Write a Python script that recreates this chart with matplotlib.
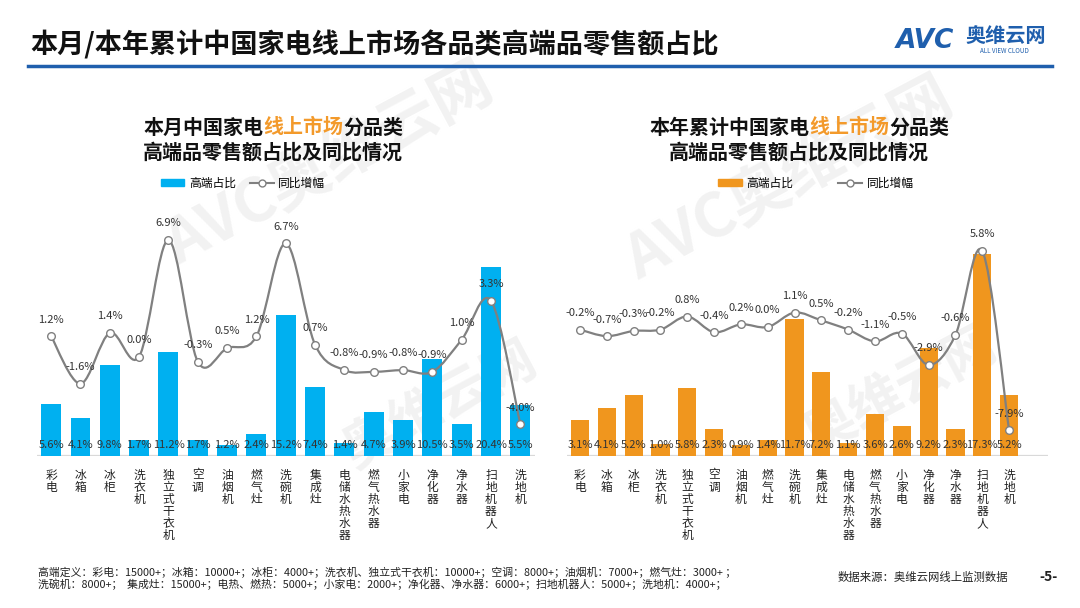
import matplotlib
matplotlib.use('Agg')
import matplotlib.pyplot as plt
from matplotlib.path import Path
from matplotlib.patches import PathPatch, Patch
from matplotlib.lines import Line2D
import numpy as np

plt.rcParams['font.family'] = ['Noto Sans CJK SC', 'DejaVu Sans']

# data
categories = ['彩电', '冰箱', '冰柜', '洗衣机', '独立式干衣机', '空调', '油烟机', '燃气灶', '洗碗机',
              '集成灶', '电储水热水器', '燃气热水器', '小家电', '净化器', '净水器', '扫地机器人', '洗地机']
month_share = [5.6, 4.1, 9.8, 1.7, 11.2, 1.7, 1.2, 2.4, 15.2, 7.4, 1.4, 4.7, 3.9, 10.5, 3.5, 20.4, 5.5]
month_yoy = [1.2, -1.6, 1.4, 0.0, 6.9, -0.3, 0.5, 1.2, 6.7, 0.7, -0.8, -0.9, -0.8, -0.9, 1.0, 3.3, -4.0]
year_share = [3.1, 4.1, 5.2, 1.0, 5.8, 2.3, 0.9, 1.4, 11.7, 7.2, 1.1, 3.6, 2.6, 9.2, 2.3, 17.3, 5.2]
year_yoy = [-0.2, -0.7, -0.3, -0.2, 0.8, -0.4, 0.2, 0.0, 1.1, 0.5, -0.2, -1.1, -0.5, -2.9, -0.6, 5.8, -7.9]

W, H = 1080, 608
fig = plt.figure(figsize=(10.8, 6.08), dpi=100)


def px(x, y):
    return x / W, 1 - y / H


def smooth_path(x, y):
    pts = np.column_stack([x, y]).astype(float)
    n = len(pts)
    verts = [pts[0]]
    codes = [Path.MOVETO]
    for i in range(n - 1):
        p0 = pts[i - 1] if i > 0 else pts[i]
        p1 = pts[i]
        p2 = pts[i + 1]
        p3 = pts[i + 2] if i + 2 < n else pts[i + 1]
        verts += [p1 + (p2 - p0) / 6, p2 - (p3 - p1) / 6, p2]
        codes += [Path.CURVE4] * 3
    return Path(verts, codes)


# watermarks
for (wx, wy, t, fs) in [(330, 165, 'AVC奥维云网', 44), (440, 405, '奥维云网', 38),
                        (790, 180, 'AVC奥维云网', 44), (900, 390, '奥维云网', 38)]:
    fig.text(*px(wx, wy), t, fontsize=fs, fontweight='bold', color='#F2F2F2',
             rotation=28, ha='center', va='center', zorder=-5)

# header
fig.text(*px(30, 45), '本月/本年累计中国家电线上市场各品类高端品零售额占比', fontsize=19.5,
         fontweight='bold', color='#111111', ha='left', va='center')
fig.add_artist(Line2D([28 / W, 1052 / W], [1 - 66 / H, 1 - 66 / H], color='#1F5FAD', lw=2.5))
fig.text(*px(896, 41), 'AVC', fontsize=19, fontweight='bold', fontstyle='italic',
         color='#1F5FAD', ha='left', va='center', family='DejaVu Sans')
fig.text(*px(965, 36), '奥维云网', fontsize=14.5, fontweight='bold', color='#1F5FAD',
         ha='left', va='center')
fig.text(*px(1004, 51), 'ALL VIEW CLOUD', fontsize=4.5, color='#1F5FAD', ha='center', va='center')


def title_line(cx, y, parts, fs=14.4):
    em = fs * 100 / 72
    n = sum(len(t) for t, c in parts)
    x0 = cx - n * em / 2
    for t, c in parts:
        fig.text(*px(x0, y), t, color=c, fontsize=fs, fontweight='bold', ha='left', va='center')
        x0 += len(t) * em


def panel(left, right_edge, xmax, share, yoy, color, bar_scale, zero_y, line_scale,
          title_parts, title_cx, leg_cx, colsp):
    top, base = 220, 456
    ax = fig.add_axes([left / W, 1 - base / H, (right_edge - left) / W, (base - top) / H])
    ax.patch.set_alpha(0)
    x = np.arange(len(categories))
    ax.bar(x, share, width=0.68, color=color, zorder=2)
    ax.set_xlim(-0.5, xmax)
    ax.set_ylim(0, (base - top) / bar_scale)
    ax.axhline(0, color='#D9D9D9', lw=1.6, zorder=1)
    for s in ax.spines.values():
        s.set_visible(False)
    ax.set_yticks([])
    ax.set_xticks(x)
    ax.set_xticklabels(['\n'.join(c) for c in categories], fontsize=8.5, linespacing=0.92,
                       color='#222222')
    ax.tick_params(axis='x', length=0, pad=9)
    for i, v in enumerate(share):
        ax.annotate(f'{v:.1f}%', (i, 0), xytext=(0, 8), textcoords='offset points',
                    ha='center', va='center', fontsize=8, color='#333333', zorder=5)

    ax2 = ax.twinx()
    ax2.set_ylim(-(base - zero_y) / line_scale, (zero_y - top) / line_scale)
    ax2.set_yticks([])
    for s in ax2.spines.values():
        s.set_visible(False)
    ax2.add_patch(PathPatch(smooth_path(x, yoy), facecolor='none', edgecolor='#808080',
                            lw=1.6, zorder=3, clip_on=False))
    ax2.plot(x, yoy, 'o', mfc='white', mec='#808080', ms=5.5, mew=1, zorder=4, clip_on=False)
    for i, v in enumerate(yoy):
        ax2.annotate(f'{v:.1f}%', (i, v), xytext=(0, 12), textcoords='offset points',
                     ha='center', va='center', fontsize=8, color='#333333', zorder=5)

    title_line(title_cx, 127, title_parts)
    title_line(title_cx, 152, [('高端品零售额占比及同比情况', '#111111')])

    handles = [Patch(color=color),
               Line2D([], [], color='#808080', marker='o', mfc='white', mec='#808080', ms=5)]
    ax.legend(handles, ['高端占比', '同比增幅'], loc='center', bbox_to_anchor=px(leg_cx, 183),
              bbox_transform=fig.transFigure, ncol=2, frameon=False, fontsize=8.5,
              handlelength=2.0, handleheight=0.55, columnspacing=colsp, handletextpad=0.4)


orange = '#F39A2B'
panel(36.5, 535, 16.5, month_share, month_yoy, '#00B0F0', 9.27, 356.6, 16.9,
      [('本月中国家电', '#111111'), ('线上市场', orange), ('分品类', '#111111')], 273, 243, 1.2)
panel(566.6, 1048, 17.45, year_share, year_yoy, '#F0961E', 11.7, 327, 13.1,
      [('本年累计中国家电', '#111111'), ('线上市场', orange), ('分品类', '#111111')], 799, 816, 3.8)

# footer
fig.text(*px(38, 572), '高端定义：彩电：15000+；冰箱：10000+；冰柜：4000+；洗衣机、独立式干衣机：10000+；'
         '空调：8000+；油烟机：7000+；燃气灶：3000+ ；', fontsize=7.8, color='#222222', ha='left', va='center')
fig.text(*px(38, 584), '洗碗机：8000+；  集成灶：15000+；电热、燃热：5000+；小家电：2000+；'
         '净化器、净水器：6000+；扫地机器人：5000+；洗地机：4000+；', fontsize=7.8, color='#222222',
         ha='left', va='center')
fig.text(*px(838, 577), '数据来源：奥维云网线上监测数据', fontsize=8.2, color='#222222', ha='left', va='center')
fig.text(*px(1049, 577), '-5-', fontsize=10, fontweight='bold', color='#222222', ha='center', va='center')

fig.savefig('out.png', dpi=100)
